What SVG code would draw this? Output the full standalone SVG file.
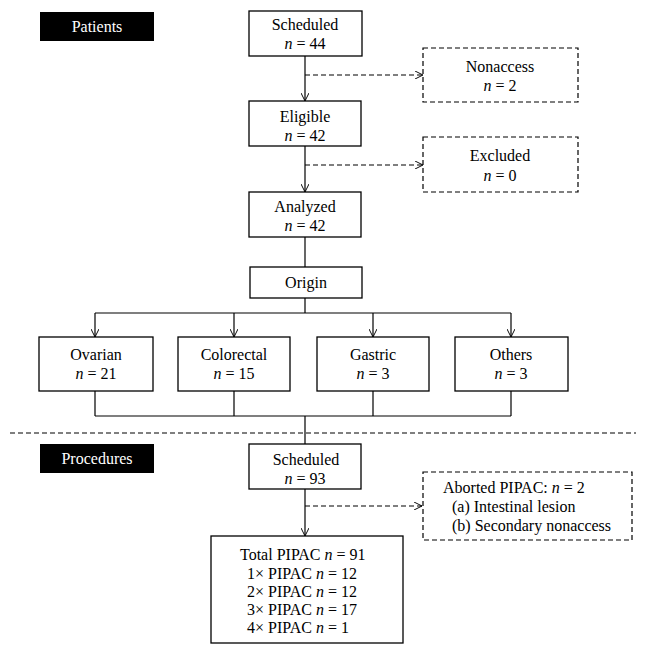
<svg xmlns="http://www.w3.org/2000/svg" width="645" height="654" viewBox="0 0 645 654">
<defs>
<marker id="ah" viewBox="0 0 10 10" refX="10" refY="5" markerWidth="8" markerHeight="8" markerUnits="userSpaceOnUse" orient="auto">
<path d="M0,0 L10,5 L0,10" fill="none" stroke="#000" stroke-width="1.2"/>
</marker>
<style>
.box{fill:#fff;stroke:#000;stroke-width:1.3}
.dbox{fill:#fff;stroke:#000;stroke-width:1.2;stroke-dasharray:5,3}
.lab{fill:#000}
.t{font-family:"Liberation Serif","Times New Roman",serif;font-size:16px;fill:#000;text-anchor:middle}
.tl{font-family:"Liberation Serif","Times New Roman",serif;font-size:16px;fill:#000}
.w{font-family:"Liberation Serif","Times New Roman",serif;font-size:16px;fill:#fff;text-anchor:middle}
.ln{fill:none;stroke:#000;stroke-width:1.2}
.dl{fill:none;stroke:#000;stroke-width:1.2;stroke-dasharray:5,3}
.it{font-style:italic}
</style>
</defs>
<g id="patients-label"><rect class="lab" x="40" y="12" width="114" height="29"/><text class="w" x="97" y="32">Patients</text></g>
<g id="procedures-label"><rect class="lab" x="40" y="444" width="114" height="29"/><text class="w" x="97" y="464">Procedures</text></g>
<g id="connectors">
<path class="ln" d="M305,56 V101" marker-end="url(#ah)"/>
<path class="dl" d="M305,75 H423" marker-end="url(#ah)"/>
<path class="ln" d="M305,146 V192" marker-end="url(#ah)"/>
<path class="dl" d="M305,165 H423" marker-end="url(#ah)"/>
<path class="ln" d="M305,237 V267"/>
<path class="ln" d="M305,298 V313 M95,313 H511"/>
<path class="ln" d="M95,313 V337" marker-end="url(#ah)"/>
<path class="ln" d="M234,313 V337" marker-end="url(#ah)"/>
<path class="ln" d="M373,313 V337" marker-end="url(#ah)"/>
<path class="ln" d="M511,313 V337" marker-end="url(#ah)"/>
<path class="ln" d="M95,391 V416 M234,391 V416 M373,391 V416 M511,391 V416 M95,416 H511 M305,416 V444"/>
<path class="dl" d="M10,433 H636"/>
<path class="ln" d="M305,489 V536" marker-end="url(#ah)"/>
<path class="dl" d="M305,506 H422" marker-end="url(#ah)"/>
</g>
<g id="scheduled"><rect class="box" x="249" y="11" width="113" height="45"/><text class="t" x="305" y="30">Scheduled</text><text class="t" x="305" y="49"><tspan class="it">n</tspan> = 44</text></g>
<g id="nonaccess"><rect class="dbox" x="423" y="48" width="155" height="54"/><text class="t" x="500" y="72">Nonaccess</text><text class="t" x="500" y="91"><tspan class="it">n</tspan> = 2</text></g>
<g id="eligible"><rect class="box" x="249" y="101" width="112" height="45"/><text class="t" x="305" y="122">Eligible</text><text class="t" x="305" y="141"><tspan class="it">n</tspan> = 42</text></g>
<g id="excluded"><rect class="dbox" x="423" y="137" width="155" height="55"/><text class="t" x="500" y="161">Excluded</text><text class="t" x="500" y="181"><tspan class="it">n</tspan> = 0</text></g>
<g id="analyzed"><rect class="box" x="249" y="192" width="112" height="45"/><text class="t" x="305" y="212">Analyzed</text><text class="t" x="305" y="231"><tspan class="it">n</tspan> = 42</text></g>
<g id="origin"><rect class="box" x="250" y="267" width="112" height="31"/><text class="t" x="306" y="288">Origin</text></g>
<g id="ovarian"><rect class="box" x="39" y="337" width="114" height="54"/><text class="t" x="96" y="360">Ovarian</text><text class="t" x="96" y="379"><tspan class="it">n</tspan> = 21</text></g>
<g id="colorectal"><rect class="box" x="178" y="337" width="112" height="54"/><text class="t" x="234" y="360">Colorectal</text><text class="t" x="234" y="379"><tspan class="it">n</tspan> = 15</text></g>
<g id="gastric"><rect class="box" x="317" y="337" width="112" height="54"/><text class="t" x="373" y="360">Gastric</text><text class="t" x="373" y="379"><tspan class="it">n</tspan> = 3</text></g>
<g id="others"><rect class="box" x="455" y="337" width="113" height="54"/><text class="t" x="511" y="360">Others</text><text class="t" x="511" y="379"><tspan class="it">n</tspan> = 3</text></g>
<g id="scheduled2"><rect class="box" x="249" y="444" width="112" height="45"/><text class="t" x="306" y="465">Scheduled</text><text class="t" x="305" y="484"><tspan class="it">n</tspan> = 93</text></g>
<g id="aborted"><rect class="dbox" x="423" y="472" width="209" height="68"/><text class="tl" x="443" y="493">Aborted PIPAC: <tspan class="it">n</tspan> = 2</text><text class="tl" x="452" y="512">(a) Intestinal lesion</text><text class="tl" x="452" y="531">(b) Secondary nonaccess</text></g>
<g id="total"><rect class="box" x="211" y="536" width="192" height="107"/><text class="tl" x="240" y="560">Total PIPAC <tspan class="it">n</tspan> = 91</text><text class="tl" x="247" y="579">1× PIPAC <tspan class="it">n</tspan> = 12</text><text class="tl" x="247" y="597">2× PIPAC <tspan class="it">n</tspan> = 12</text><text class="tl" x="247" y="615">3× PIPAC <tspan class="it">n</tspan> = 17</text><text class="tl" x="247" y="633">4× PIPAC <tspan class="it">n</tspan> = 1</text></g>
</svg>
